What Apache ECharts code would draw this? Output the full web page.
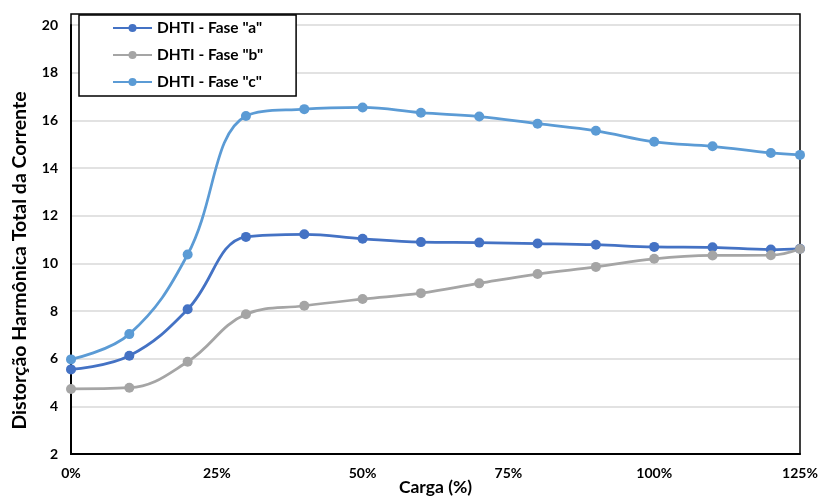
<!DOCTYPE html>
<html>
<head>
<meta charset="utf-8">
<script src="https://cdn.jsdelivr.net/npm/echarts@6/dist/echarts.min.js"></script>
<style>
  html, body { margin: 0; padding: 0; background: #fff; }
  #chart { width: 823px; height: 497px; }
</style>
</head>
<body>
<div id="chart"></div>
<script>
// carga (%) nos pontos medidos
const carga = [0, 10, 20, 30, 40, 50, 60, 70, 80, 90, 100, 110, 120, 125];
const faseA = [5.55, 6.12, 8.07, 11.11, 11.22, 11.03, 10.89, 10.87, 10.83, 10.78, 10.69, 10.67, 10.58, 10.61];
const faseB = [4.73, 4.78, 5.87, 7.86, 8.22, 8.5, 8.75, 9.16, 9.55, 9.85, 10.19, 10.33, 10.34, 10.6];
const faseC = [5.97, 7.03, 10.37, 16.18, 16.47, 16.54, 16.32, 16.16, 15.86, 15.56, 15.1, 14.91, 14.63, 14.55];
const nomes = ['DHTI - Fase "a"', 'DHTI - Fase "b"', 'DHTI - Fase "c"'];
const cores = ["#4472C4", "#A5A5A5", "#5B9BD5"];

const fonte = "Lato, 'Noto Sans', sans-serif";

function pares(ys) {
  return carga.map((x, i) => [x, ys[i]]);
}

const chart = echarts.init(document.getElementById("chart"));

const serie = (nome, ys, cor) => ({
  name: nome,
  type: "line",
  data: pares(ys),
  smooth: 0.4,
  symbol: "circle",
  symbolSize: 10,
  lineStyle: { width: 2.75, color: cor },
  itemStyle: { color: cor },
  emphasis: { disabled: true },
  z: 3,
});

chart.setOption({
  animation: false,
  color: cores,
  textStyle: { fontFamily: fonte },
  grid: { left: 71, right: 23, top: 25, bottom: 43, outerBoundsMode: "none", containLabel: false },
  legend: {
    orient: "vertical",
    left: 79,
    top: 15,
    padding: [4, 33, 5, 33],
    itemGap: 9,
    itemWidth: 39,
    itemHeight: 10,
    borderColor: "#000",
    borderWidth: 1.5,
    backgroundColor: "#fff",
    data: nomes,
    textStyle: { fontFamily: fonte, fontSize: 15.5, lineHeight: 18, fontWeight: "bold", color: "#000" },
  },
  xAxis: {
    type: "value",
    min: 0,
    max: 125,
    interval: 25,
    name: "Carga (%)",
    nameLocation: "middle",
    nameGap: 24,
    nameMoveOverlap: false,
    nameTextStyle: { fontFamily: fonte, fontSize: 17.5, fontWeight: "bold", color: "#000" },
    axisLine: { show: true, lineStyle: { color: "#000", width: 2 } },
    axisTick: { show: false },
    splitLine: { show: false },
    axisLabel: {
      formatter: (v) => v + "%",
      fontFamily: fonte,
      fontSize: 14,
      fontWeight: "bold",
      color: "#000",
      margin: 12,
    },
  },
  yAxis: {
    type: "value",
    min: 2,
    max: 20,
    interval: 2,
    name: "Distorção Harmônica Total da Corrente",
    nameLocation: "middle",
    nameGap: 41,
    nameMoveOverlap: false,
    nameTextStyle: { fontFamily: fonte, fontSize: 19.5, fontWeight: "bold", color: "#000", padding: [0, 42, 0, 0] },
    axisLine: { show: true, lineStyle: { color: "#000", width: 2 } },
    axisTick: { show: false },
    splitLine: { lineStyle: { color: "#d9d9d9", width: 1.5 } },
    axisLabel: { fontFamily: fonte, fontSize: 14, fontWeight: "bold", color: "#000", margin: 13 },
  },
  graphic: [
    {
      type: "rect",
      shape: { x: 71, y: 14, width: 729, height: 440 },
      style: { fill: "none", stroke: "#000", lineWidth: 1.5 },
      silent: true,
      z: 1,
    },
  ],
  series: [
    serie(nomes[0], faseA, cores[0]),
    serie(nomes[1], faseB, cores[1]),
    serie(nomes[2], faseC, cores[2]),
  ],
});
</script>
</body>
</html>
